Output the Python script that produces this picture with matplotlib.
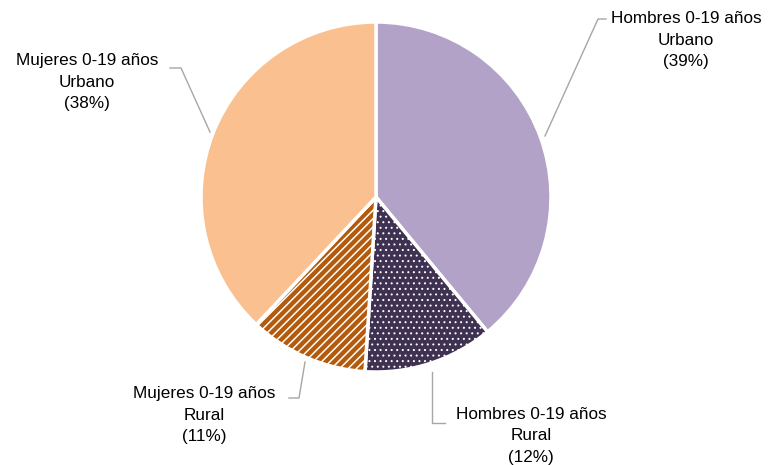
import matplotlib
matplotlib.use("Agg")
import matplotlib.pyplot as plt

# data
labels = ["Hombres 0-19 años\nUrbano", "Hombres 0-19 años\nRural",
          "Mujeres 0-19 años\nRural", "Mujeres 0-19 años\nUrbano"]
shares = [39, 12, 11, 38]
colors = ["#b3a2c7", "#3f3151", "#b35a0c", "#fac090"]
hatches = [None, "...", "////", None]
hatch_lw = [1.0, 0.7, 1.1, 1.0]

W, H = 775, 465
fig = plt.figure(figsize=(W / 100, H / 100), dpi=100)
ax = fig.add_axes([0, 0, 1, 1])

cx, cy, r = 376, H - 197, 175

wedges, _ = ax.pie(shares, colors=colors, startangle=90, counterclock=False,
                   center=(cx, cy), radius=r, frame=True,
                   wedgeprops=dict(edgecolor="white", linewidth=2.5))
for w, h, hl in zip(wedges, hatches, hatch_lw):
    if h:
        w.set_hatch(h)
        if hasattr(w, "set_hatch_linewidth"):
            w.set_hatch_linewidth(hl)
ax.set_xlim(0, W)
ax.set_ylim(0, H)
ax.set_aspect("equal")
ax.axis("off")

plt.rcParams["font.family"] = ["Liberation Sans", "DejaVu Sans"]

# label positions (pixel, y from top) and leader lines
lab_pos = [(686, 40), (531, 436), (204, 415), (87, 82)]
leaders = [
    [(545, 136), (598, 19), (606, 19)],
    [(432, 372), (432, 423), (445, 423)],
    [(305, 362), (299, 398), (289, 398)],
    [(210, 132), (181, 68), (170, 68)],
]
for lab, s, (x, y), pts in zip(labels, shares, lab_pos, leaders):
    ax.text(x, H - y, f"{lab}\n({s}%)", ha="center", va="center",
            fontsize=12.3, linespacing=1.55, color="#000000")
    ax.plot([p[0] for p in pts], [H - p[1] for p in pts],
            color="#a6a6a6", lw=1)

fig.savefig("out.png", dpi=100)
